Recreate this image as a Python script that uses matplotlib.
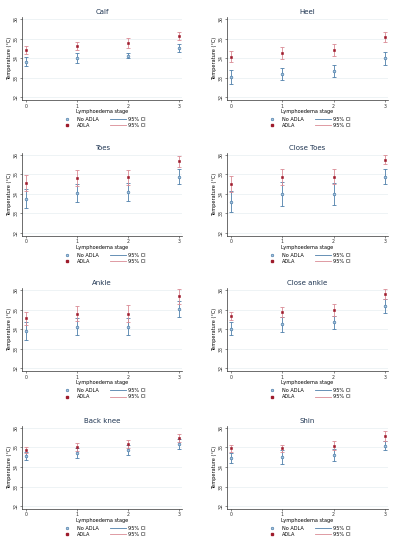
import matplotlib.pyplot as plt
from matplotlib.lines import Line2D

# Skin temperature by lymphoedema stage, mean and 95% CI half-width
stages = [0, 1, 2, 3]
titles = ['Calf', 'Heel', 'Toes', 'Close Toes', 'Ankle', 'Close ankle', 'Back knee', 'Shin']

no_adla_mean = [
    [33.82, 33.99, 34.13, 34.50],
    [33.02, 33.19, 33.34, 33.99],
    [33.76, 34.05, 34.09, 34.89],
    [33.61, 34.00, 34.00, 34.89],
    [33.91, 34.14, 34.14, 35.02],
    [34.03, 34.25, 34.35, 35.18],
    [34.57, 34.71, 34.86, 35.19],
    [34.47, 34.50, 34.63, 35.10],
]
no_adla_ci = [
    [0.22, 0.25, 0.15, 0.20],
    [0.36, 0.30, 0.30, 0.33],
    [0.50, 0.47, 0.45, 0.40],
    [0.55, 0.60, 0.55, 0.40],
    [0.45, 0.45, 0.45, 0.40],
    [0.35, 0.40, 0.35, 0.35],
    [0.20, 0.25, 0.25, 0.25],
    [0.25, 0.35, 0.30, 0.25],
]
adla_mean = [
    [34.43, 34.62, 34.76, 35.15],
    [34.08, 34.26, 34.42, 35.06],
    [34.55, 34.82, 34.85, 35.66],
    [34.51, 34.87, 34.89, 35.76],
    [34.55, 34.80, 34.80, 35.68],
    [34.69, 34.88, 35.00, 35.80],
    [34.87, 35.03, 35.19, 35.50],
    [34.95, 34.95, 35.10, 35.57],
]
adla_ci = [
    [0.20, 0.20, 0.25, 0.20],
    [0.30, 0.30, 0.30, 0.25],
    [0.40, 0.40, 0.40, 0.30],
    [0.40, 0.40, 0.40, 0.25],
    [0.35, 0.40, 0.45, 0.40],
    [0.20, 0.25, 0.30, 0.25],
    [0.15, 0.20, 0.20, 0.20],
    [0.20, 0.20, 0.25, 0.25],
]
yticks = [32, 33, 34, 35, 36]

blue = '#4d7eaa'
blue_fill = '#a9c6df'
red = '#9e1b2c'
red_ci = '#d98a94'
title_col = '#1f3552'

fig = plt.figure(figsize=(3.96, 5.5), dpi=100)

lefts = [0.056, 0.573]
widths = [0.404, 0.407]
bottoms = [0.818, 0.571, 0.325, 0.0745]
height = 0.151

for i, name in enumerate(titles):
    row, col = divmod(i, 2)
    ax = fig.add_axes([lefts[col], bottoms[row], widths[col], height])

    ax.errorbar(stages, no_adla_mean[i], yerr=no_adla_ci[i], fmt='none',
                ecolor=blue, elinewidth=0.6, capsize=1.2, capthick=0.6)
    ax.errorbar(stages, adla_mean[i], yerr=adla_ci[i], fmt='none',
                ecolor=red_ci, elinewidth=0.6, capsize=1.2, capthick=0.6)
    ax.plot(stages, no_adla_mean[i], 'o', ms=1.9, mfc=blue_fill, mec=blue, mew=0.5, ls='none')
    ax.plot(stages, adla_mean[i], 's', ms=1.8, mfc=red, mec=red, mew=0.4, ls='none')

    ax.set_xlim(-0.075, 3.06)
    ax.set_ylim(31.85, 36.1)
    ax.set_xticks(stages)
    ax.set_yticks(yticks)
    ax.set_yticklabels([str(t) for t in yticks], rotation=90, va='center')
    ax.grid(axis='y', color='#e8eef2', lw=0.5)
    ax.set_axisbelow(True)
    for s in ['top', 'right']:
        ax.spines[s].set_visible(False)
    for s in ['left', 'bottom']:
        ax.spines[s].set_linewidth(0.5)
        ax.spines[s].set_color('#333333')
    ax.tick_params(labelsize=3.4, length=1.5, width=0.4, pad=1, colors='#333333')
    ax.set_title(name, fontsize=5, color=title_col, pad=2)
    ax.set_xlabel('Lymphoedema stage', fontsize=3.6, labelpad=0.5)
    ax.set_ylabel('Temperature (°C)', fontsize=3.6, labelpad=1)

    handles = [
        Line2D([], [], marker='o', ls='none', ms=1.8, mfc=blue_fill, mec=blue, mew=0.5),
        Line2D([], [], marker='s', ls='none', ms=1.8, mfc=red, mec=red),
        Line2D([], [], color=blue, lw=0.6),
        Line2D([], [], color=red_ci, lw=0.6),
    ]
    labels = ['No ADLA', 'ADLA', '95% CI', '95% CI']
    ax.legend(handles, labels, ncol=2, loc='upper center', bbox_to_anchor=(0.5, -0.17),
              frameon=False, fontsize=3.6, handlelength=3.2, handletextpad=0.4,
              columnspacing=2.2, labelspacing=0.3, borderpad=0)

fig.savefig('out.png', dpi=100)
